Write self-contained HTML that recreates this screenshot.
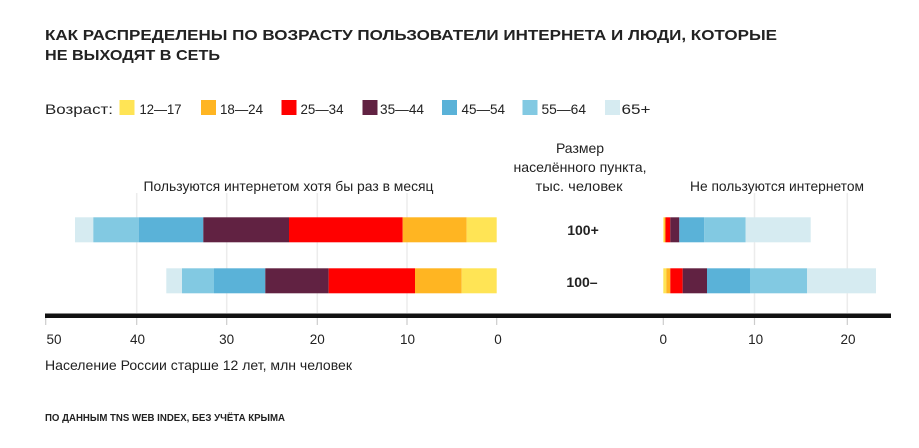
<!DOCTYPE html>
<html><head><meta charset="utf-8">
<style>
html,body{margin:0;padding:0;background:#fff;width:919px;height:448px;overflow:hidden}
svg{display:block}
text{font-family:"Liberation Sans","DejaVu Sans",sans-serif;fill:#222}
</style></head>
<body>
<svg width="919" height="448" viewBox="0 0 919 448" xmlns="http://www.w3.org/2000/svg">
<rect width="919" height="448" fill="#fff"/>
<!-- title -->
<text x="45" y="40" font-size="15" font-weight="bold" fill="#1a1a1a" textLength="732" lengthAdjust="spacingAndGlyphs">КАК РАСПРЕДЕЛЕНЫ ПО ВОЗРАСТУ ПОЛЬЗОВАТЕЛИ ИНТЕРНЕТА И ЛЮДИ, КОТОРЫЕ</text>
<text x="45" y="60" font-size="15" font-weight="bold" fill="#1a1a1a" textLength="175" lengthAdjust="spacingAndGlyphs">НЕ ВЫХОДЯТ В СЕТЬ</text>

<!-- legend -->
<text x="45" y="114" font-size="14" textLength="68" lengthAdjust="spacingAndGlyphs">Возраст:</text>
<rect x="119.5" y="100" width="15" height="15" fill="#FFE455"/>
<text x="139.5" y="114" font-size="14" textLength="42" lengthAdjust="spacingAndGlyphs">12—17</text>
<rect x="201" y="100" width="15" height="15" fill="#FFB522"/>
<text x="220" y="114" font-size="14" textLength="43" lengthAdjust="spacingAndGlyphs">18—24</text>
<rect x="281.5" y="100" width="15" height="15" fill="#FF0000"/>
<text x="300.5" y="114" font-size="14" textLength="43" lengthAdjust="spacingAndGlyphs">25—34</text>
<rect x="362.5" y="100" width="15" height="15" fill="#612242"/>
<text x="380" y="114" font-size="14" textLength="44" lengthAdjust="spacingAndGlyphs">35—44</text>
<rect x="442" y="100" width="15" height="15" fill="#5AB2D8"/>
<text x="461.5" y="114" font-size="14" textLength="43.5" lengthAdjust="spacingAndGlyphs">45—54</text>
<rect x="522.5" y="100" width="15" height="15" fill="#82C9E2"/>
<text x="541.5" y="114" font-size="14" textLength="44.5" lengthAdjust="spacingAndGlyphs">55—64</text>
<rect x="605" y="100" width="15" height="15" fill="#D6EBF1"/>
<text x="621.5" y="114" font-size="14" textLength="29" lengthAdjust="spacingAndGlyphs">65+</text>

<!-- section headers -->
<text x="143.5" y="191" font-size="14" textLength="290" lengthAdjust="spacingAndGlyphs">Пользуются интернетом хотя бы раз в месяц</text>
<text x="580" y="153" font-size="14" text-anchor="middle">Размер</text>
<text x="580" y="172" font-size="14" text-anchor="middle" textLength="133" lengthAdjust="spacingAndGlyphs">населённого пункта,</text>
<text x="579" y="191" font-size="14" text-anchor="middle" textLength="87" lengthAdjust="spacingAndGlyphs">тыс. человек</text>
<text x="690" y="191" font-size="14" textLength="174" lengthAdjust="spacingAndGlyphs">Не пользуются интернетом</text>

<!-- gridlines -->
<g stroke="#ececec" stroke-width="1.5">
<line x1="136.7" y1="193" x2="136.7" y2="313"/>
<line x1="226.7" y1="193" x2="226.7" y2="313"/>
<line x1="317.3" y1="193" x2="317.3" y2="313"/>
<line x1="407" y1="193" x2="407" y2="313"/>
<line x1="754.5" y1="193" x2="754.5" y2="313"/>
<line x1="847.3" y1="193" x2="847.3" y2="313"/>
</g>

<!-- left bars top -->
<g>
<rect x="75" y="217.3" width="18.3" height="25" fill="#D6EBF1"/>
<rect x="93.3" y="217.3" width="45.4" height="25" fill="#82C9E2"/>
<rect x="138.7" y="217.3" width="64.6" height="25" fill="#5AB2D8"/>
<rect x="203.3" y="217.3" width="85.7" height="25" fill="#612242"/>
<rect x="289" y="217.3" width="113.7" height="25" fill="#FF0000"/>
<rect x="402.7" y="217.3" width="64" height="25" fill="#FFB522"/>
<rect x="466.7" y="217.3" width="30" height="25" fill="#FFE455"/>
</g>
<!-- left bars bottom -->
<g>
<rect x="166.3" y="268.3" width="15.7" height="25" fill="#D6EBF1"/>
<rect x="182" y="268.3" width="32" height="25" fill="#82C9E2"/>
<rect x="214" y="268.3" width="51.3" height="25" fill="#5AB2D8"/>
<rect x="265.3" y="268.3" width="63.4" height="25" fill="#612242"/>
<rect x="328.7" y="268.3" width="86.3" height="25" fill="#FF0000"/>
<rect x="415" y="268.3" width="46.7" height="25" fill="#FFB522"/>
<rect x="461.7" y="268.3" width="35" height="25" fill="#FFE455"/>
</g>
<!-- right bars top -->
<g>
<rect x="663.3" y="217.3" width="1.2" height="25" fill="#FFE455"/>
<rect x="664.5" y="217.3" width="1" height="25" fill="#FFB522"/>
<rect x="665.5" y="217.3" width="4.8" height="25" fill="#FF0000"/>
<rect x="670.3" y="217.3" width="9" height="25" fill="#612242"/>
<rect x="679.3" y="217.3" width="25" height="25" fill="#5AB2D8"/>
<rect x="704.3" y="217.3" width="41.4" height="25" fill="#82C9E2"/>
<rect x="745.7" y="217.3" width="65" height="25" fill="#D6EBF1"/>
</g>
<!-- right bars bottom -->
<g>
<rect x="663.3" y="268.3" width="3" height="25" fill="#FFE455"/>
<rect x="666.3" y="268.3" width="4" height="25" fill="#FFB522"/>
<rect x="670.3" y="268.3" width="12.4" height="25" fill="#FF0000"/>
<rect x="682.7" y="268.3" width="24.3" height="25" fill="#612242"/>
<rect x="707" y="268.3" width="43" height="25" fill="#5AB2D8"/>
<rect x="750" y="268.3" width="57" height="25" fill="#82C9E2"/>
<rect x="807" y="268.3" width="69" height="25" fill="#D6EBF1"/>
</g>

<!-- row labels -->
<text x="583" y="235" font-size="14" font-weight="bold" text-anchor="middle" fill="#111">100+</text>
<text x="582" y="287" font-size="14" font-weight="bold" text-anchor="middle" fill="#111">100–</text>

<!-- axis -->
<rect x="45" y="313.5" width="846" height="4.5" fill="#111"/>
<g stroke="#ccc" stroke-width="1.2">
<line x1="45.7" y1="318" x2="45.7" y2="325"/>
<line x1="136.7" y1="318" x2="136.7" y2="325"/>
<line x1="226.7" y1="318" x2="226.7" y2="325"/>
<line x1="317.3" y1="318" x2="317.3" y2="325"/>
<line x1="407" y1="318" x2="407" y2="325"/>
<line x1="496.7" y1="318" x2="496.7" y2="325"/>
<line x1="663.3" y1="318" x2="663.3" y2="325"/>
<line x1="754.5" y1="318" x2="754.5" y2="325"/>
<line x1="847.3" y1="318" x2="847.3" y2="325"/>
</g>
<g font-size="13.5" fill="#222">
<text x="46.5" y="344">50</text>
<text x="137.5" y="344" text-anchor="middle">40</text>
<text x="226.7" y="344" text-anchor="middle">30</text>
<text x="317.3" y="344" text-anchor="middle">20</text>
<text x="407.5" y="344" text-anchor="middle">10</text>
<text x="498" y="344" text-anchor="middle">0</text>
<text x="663.3" y="344" text-anchor="middle">0</text>
<text x="755.6" y="344" text-anchor="middle">10</text>
<text x="848" y="344" text-anchor="middle">20</text>
</g>
<text x="45" y="370" font-size="14" textLength="307" lengthAdjust="spacingAndGlyphs">Население России старше 12 лет, млн человек</text>

<!-- footnote -->
<text x="45" y="421" font-size="10" font-weight="bold" fill="#222" textLength="240" lengthAdjust="spacingAndGlyphs">ПО ДАННЫМ TNS WEB INDEX, БЕЗ УЧЁТА КРЫМА</text>
</svg>
</body></html>
